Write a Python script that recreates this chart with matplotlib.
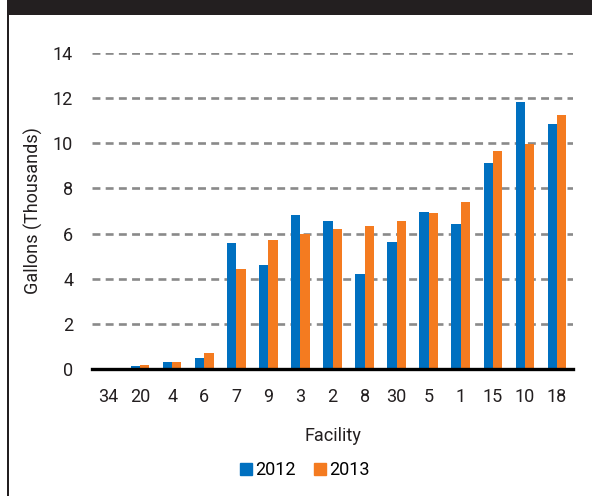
import matplotlib
matplotlib.use("Agg")
import matplotlib.pyplot as plt
import numpy as np
from matplotlib.patches import Rectangle, Patch

facilities = ["34", "20", "4", "6", "7", "9", "3", "2", "8", "30", "5", "1", "15", "10", "18"]
gallons_2012 = [0.05, 0.13, 0.31, 0.49, 5.58, 4.62, 6.81, 6.57, 4.21, 5.64, 6.97, 6.41, 9.13, 11.84, 10.85]
gallons_2013 = [0.05, 0.18, 0.32, 0.71, 4.44, 5.72, 5.98, 6.20, 6.32, 6.54, 6.90, 7.41, 9.66, 9.98, 11.27]

blue = "#0070C0"
orange = "#F47B20"
dark = "#231F20"

plt.rcParams["font.family"] = ["Roboto", "DejaVu Sans"]

W, H = 592, 496
fig = plt.figure(figsize=(W / 100, H / 100), dpi=100)

# frame: dark header band + left border
fig.patches.append(Rectangle((7 / W, 1 - 15 / H), 1, 15 / H, transform=fig.transFigure,
                             facecolor=dark, edgecolor="none", zorder=0))
fig.patches.append(Rectangle((7 / W, 0), 2 / W, 1, transform=fig.transFigure,
                             facecolor=dark, edgecolor="none", zorder=0))

ax = fig.add_axes([92 / W, (H - 369) / H, (573 - 92) / W, (369 - 53) / H])

x = np.arange(len(facilities))
w = 0.29
ax.bar(x - w / 2, gallons_2012, w, color=blue, zorder=3, label="2012")
ax.bar(x + w / 2, gallons_2013, w, color=orange, zorder=3, label="2013")

ax.set_xlim(-0.5, len(facilities) - 0.5)
ax.set_ylim(0, 14)
ax.set_yticks(range(0, 15, 2))
ax.set_xticks(x)
ax.set_xticklabels(facilities)

ax.yaxis.grid(True, color="#8a8a8a", linewidth=1.9, linestyle=(0, (3.0, 2.0)), zorder=1)
ax.set_axisbelow(True)
for s in ["top", "right", "left"]:
    ax.spines[s].set_visible(False)
ax.spines["bottom"].set_linewidth(2.4)
ax.spines["bottom"].set_color("black")
ax.spines["bottom"].set_zorder(4)
ax.tick_params(length=0, labelsize=13, colors="#231F20")
ax.tick_params(axis="y", pad=13.5)
ax.tick_params(axis="x", pad=14)

ax.set_xlabel("Facility", fontsize=13, color="#231F20", labelpad=15)
ax.set_ylabel("Gallons (Thousands)", fontsize=13, color="#231F20", labelpad=7)

handles = [Patch(color=blue, label="2012"), Patch(color=orange, label="2013")]
fig.legend(handles=handles, loc="center", bbox_to_anchor=(305 / W, 1 - 470 / H), ncol=2,
           frameon=False, fontsize=13, handlelength=0.65, handleheight=0.65,
           handletextpad=0.2, columnspacing=1.0)

fig.savefig("out.png", dpi=100, facecolor="white")
